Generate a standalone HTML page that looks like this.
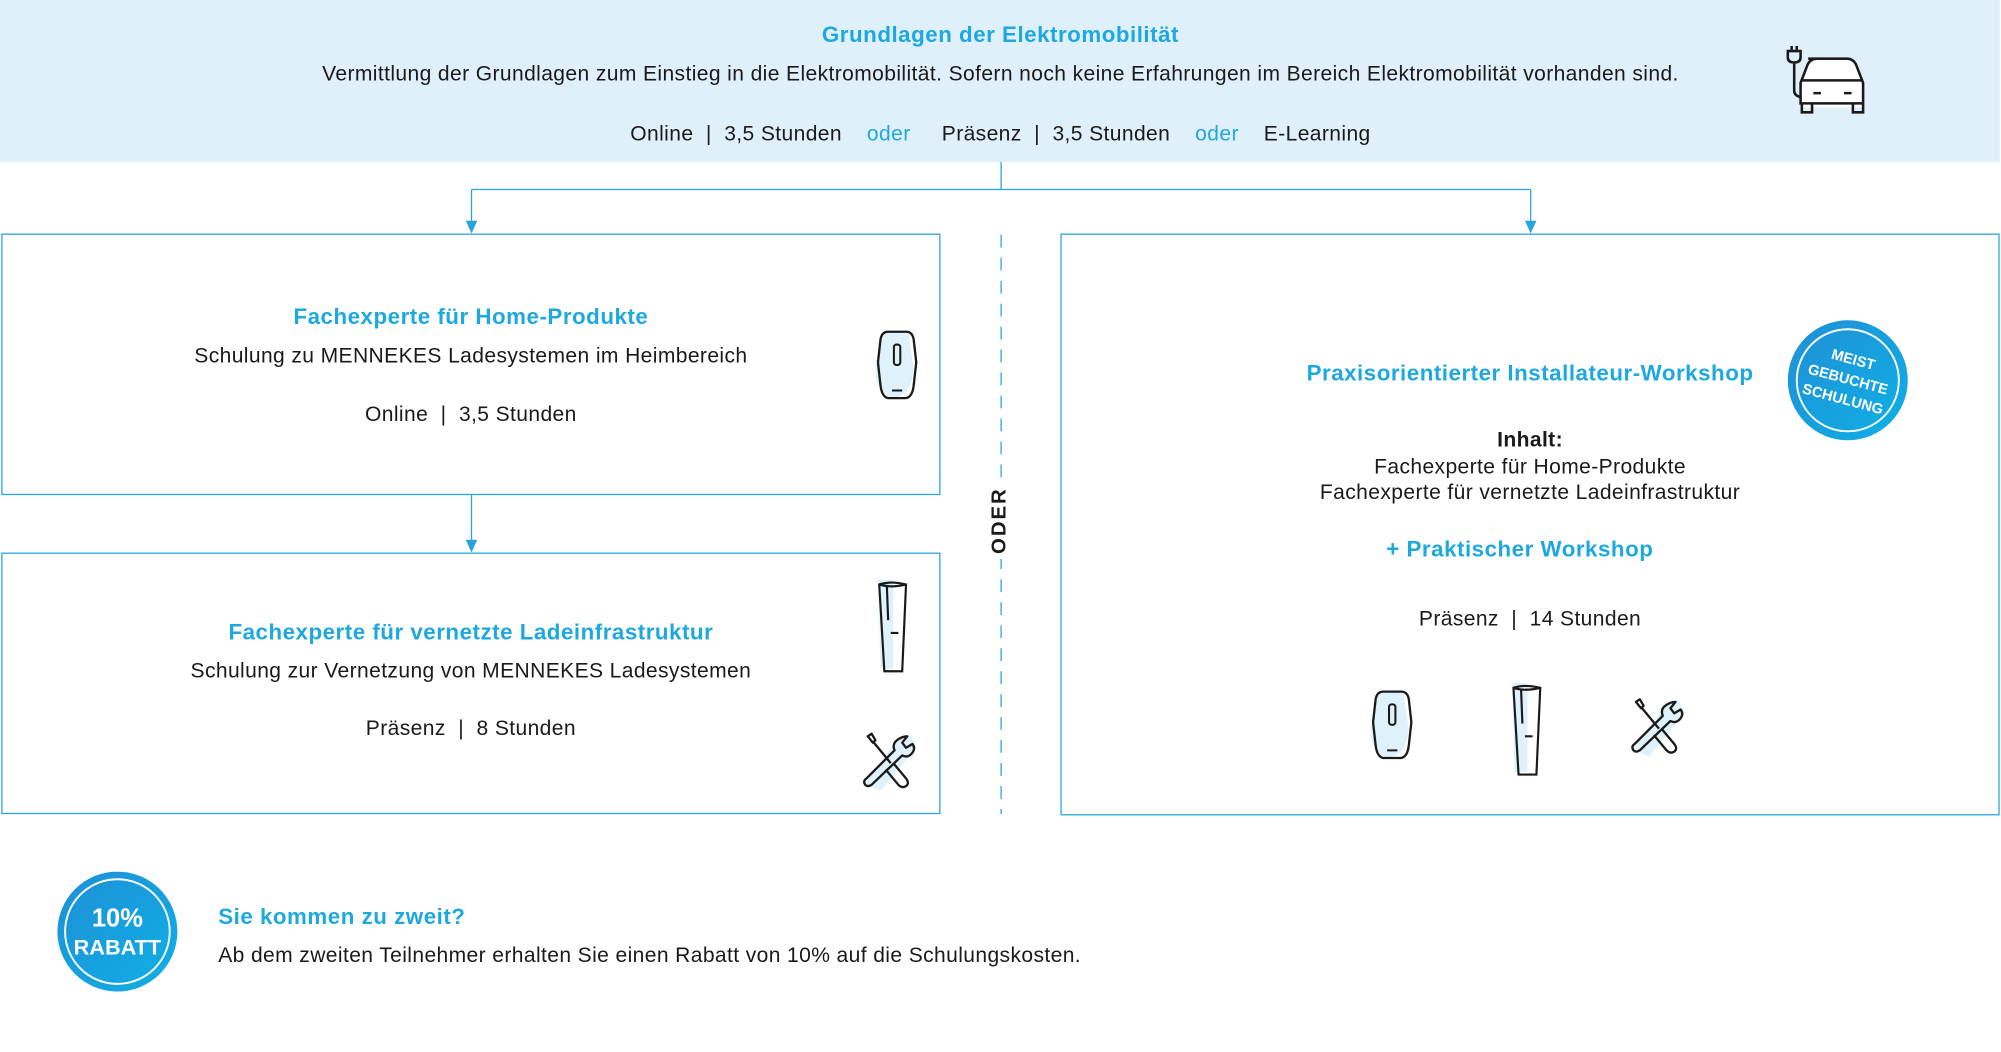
<!DOCTYPE html>
<html><head><meta charset="utf-8">
<style>
html,body{margin:0;padding:0;background:#fff;width:2001px;height:1051px;overflow:hidden}
#w{position:absolute;left:0;top:0;width:1568px;height:824px;transform:scale(1.2761);transform-origin:0 0;font-family:"Liberation Sans",Arial,sans-serif;color:#1a1a1a}
.a{position:absolute}
.c{position:absolute;text-align:center;white-space:nowrap}
.blue{color:#1ea8e0}
.t{font-size:17.5px;font-weight:bold;color:#1ea8e0;letter-spacing:0.4px}
.d{font-size:16.5px;letter-spacing:0.3px}
.box{position:absolute;border:1px solid #29a3dd;box-sizing:border-box}
</style></head><body><div id="w">

<div class="a" style="left:0;top:0;width:1567px;height:127px;background:#dff0fb"></div>
<div class="c t" style="left:0;width:1568px;top:17px">Grundlagen der Elektromobilität</div>
<div class="c d" style="left:0;width:1568px;top:49px">Vermittlung der Grundlagen zum Einstieg in die Elektromobilität. Sofern noch keine Erfahrungen im Bereich Elektromobilität vorhanden sind.</div>
<div class="c d" style="left:0;width:1568px;top:96px">Online &nbsp;|&nbsp; 3,5 Stunden &nbsp;&nbsp;&nbsp;<span class="blue">oder</span>&nbsp;&nbsp;&nbsp;&nbsp; Präsenz &nbsp;|&nbsp; 3,5 Stunden &nbsp;&nbsp;&nbsp;<span class="blue">oder</span>&nbsp;&nbsp;&nbsp; E-Learning</div>

<svg class="a" style="left:1395px;top:36px" width="75" height="56" viewBox="0 0 75 56" fill="none" stroke="#1a1a1a" stroke-width="2">
<path d="M18 10 h34 q6 0 9 8 l5 14 v16 h-50 v-16 l5 -14 q2 -8 7 -8z" fill="#fff" stroke="none"/>
<path d="M22 10 h30 q6 0 8 6 l5 13 v16 h-49 v-16 l5 -13 q2 -6 8 -6z"/>
<path d="M16 27 h49"/><path d="M26 37 h6 M50 37 h6"/>
<path d="M17 45 v7 h8 v-7 M57 45 v7 h8 v-7"/>
<path d="M9 4 v-4 M13 4 v-4 M6 4 h10 v5 q0 4 -5 4 q-5 0 -5 -4z M11 13 v22 q0 4 5 5"/>
</svg>

<svg class="a" style="left:0;top:0" width="1568" height="824">
<g stroke="#29a3dd" stroke-width="1" fill="none">
<path d="M784.5 127 V148.5 M369.5 148.5 H1199.5 M369.5 148.5 V176 M1199.5 148.5 V176 M369.5 387 V426"/>
<path d="M784.5 184 V638" stroke-dasharray="10 8"/>
</g>
<g fill="#29a3dd"><path d="M365 173 h9 l-4.5 10z"/><path d="M1195 173 h9 l-4.5 10z"/><path d="M365 423 h9 l-4.5 10z"/></g>
<rect x="774" y="378" width="21" height="60" fill="#fff"/>
</svg>
<div class="a" style="left:784px;top:408px;transform:translate(-50%,-50%) rotate(-90deg);font-size:16px;font-weight:bold;letter-spacing:1.5px">ODER</div>

<div class="box" style="left:1px;top:183px;width:736px;height:205px"></div>
<div class="c t" style="left:1px;width:736px;top:238px">Fachexperte für Home-Produkte</div>
<div class="c d" style="left:1px;width:736px;top:270px">Schulung zu MENNEKES Ladesystemen im Heimbereich</div>
<div class="c d" style="left:1px;width:736px;top:316px">Online &nbsp;|&nbsp; 3,5 Stunden</div>

<div class="box" style="left:1px;top:433px;width:736px;height:205px"></div>
<div class="c t" style="left:1px;width:736px;top:485px">Fachexperte für vernetzte Ladeinfrastruktur</div>
<div class="c d" style="left:1px;width:736px;top:517px">Schulung zur Vernetzung von MENNEKES Ladesystemen</div>
<div class="c d" style="left:1px;width:736px;top:562px">Präsenz &nbsp;|&nbsp; 8 Stunden</div>

<div class="box" style="left:831px;top:183px;width:736px;height:456px"></div>
<div class="c t" style="left:831px;width:736px;top:282px">Praxisorientierter Installateur-Workshop</div>
<div class="c d" style="left:831px;width:736px;top:336px;font-weight:bold">Inhalt:</div>
<div class="c d" style="left:831px;width:736px;top:357px">Fachexperte für Home-Produkte</div>
<div class="c d" style="left:831px;width:736px;top:377px">Fachexperte für vernetzte Ladeinfrastruktur</div>
<div class="c t" style="left:831px;width:720px;top:420px">+ Praktischer Workshop</div>
<div class="c d" style="left:831px;width:736px;top:476px">Präsenz &nbsp;|&nbsp; 14 Stunden</div>

<svg class="a" style="left:684px;top:256px" width="40" height="60" viewBox="0 0 40 60">
<path d="M6 6 q10 -6 22 0 l4 28 q-2 20 -16 22 q-14 -4 -14 -22z" fill="#dff2fb"/>
<path d="M12 4 h14 q5 0 6 6 l2 18 l-2 18 q-1 9 -6 10 h-14 q-5 -1 -6 -10 l-2 -18 l2 -18 q1 -6 6 -6z" fill="none" stroke="#1a1a1a" stroke-width="1.8"/>
<rect x="16.5" y="14" width="5" height="16" rx="2" fill="none" stroke="#1a1a1a" stroke-width="1.6"/><path d="M15 50 h8" stroke="#1a1a1a" stroke-width="1.6"/>
</svg>
<svg class="a" style="left:1072px;top:538px" width="40" height="60" viewBox="0 0 40 60">
<path d="M6 6 q10 -6 22 0 l4 28 q-2 20 -16 22 q-14 -4 -14 -22z" fill="#dff2fb"/>
<path d="M12 4 h14 q5 0 6 6 l2 18 l-2 18 q-1 9 -6 10 h-14 q-5 -1 -6 -10 l-2 -18 l2 -18 q1 -6 6 -6z" fill="none" stroke="#1a1a1a" stroke-width="1.8"/>
<rect x="16.5" y="14" width="5" height="16" rx="2" fill="none" stroke="#1a1a1a" stroke-width="1.6"/><path d="M15 50 h8" stroke="#1a1a1a" stroke-width="1.6"/>
</svg>
<svg class="a" style="left:686px;top:452px" width="30" height="78" viewBox="0 0 30 78">
<path d="M2 2 h12 l0 70 h-10z" fill="#dff2fb"/>
<path d="M3 6 q9 -3 21 0 l-3 68 h-14z M3 6 q9 3 21 0 M9 8 l1 26 M12 44 h6" fill="none" stroke="#1a1a1a" stroke-width="1.7"/>
</svg>
<svg class="a" style="left:1183px;top:533px" width="30" height="78" viewBox="0 0 30 78">
<path d="M2 2 h12 l0 70 h-10z" fill="#dff2fb"/>
<path d="M3 6 q9 -3 21 0 l-3 68 h-14z M3 6 q9 3 21 0 M9 8 l1 26 M12 44 h6" fill="none" stroke="#1a1a1a" stroke-width="1.7"/>
</svg>
<svg class="a" style="left:674px;top:572px" width="50" height="50" viewBox="0 0 50 50">
<path d="M30 6 l10 -2 l4 10 l-28 34 l-12 -6z" fill="#dff2fb"/>
<g fill="none" stroke="#1a1a1a" stroke-width="1.8" stroke-linejoin="round">
<path d="M6 5 l3 -2 l3 5 l-2 2z M10 9 l14 17"/>
<path d="M26 26 l10 12 q3 4 0 6 q-3 2 -6 -1 l-10 -12"/>
<path d="M37 5 l-4 5 l3 4 l5 -3 q3 4 -1 8 q-3 3 -7 1 l-24 23 q-3 2 -5 0 q-2 -3 1 -5 l22 -22 q-2 -5 2 -8 q4 -3 8 -3z"/>
</g></svg>
<svg class="a" style="left:1276px;top:545px" width="50" height="50" viewBox="0 0 50 50">
<path d="M30 6 l10 -2 l4 10 l-28 34 l-12 -6z" fill="#dff2fb"/>
<g fill="none" stroke="#1a1a1a" stroke-width="1.8" stroke-linejoin="round">
<path d="M6 5 l3 -2 l3 5 l-2 2z M10 9 l14 17"/>
<path d="M26 26 l10 12 q3 4 0 6 q-3 2 -6 -1 l-10 -12"/>
<path d="M37 5 l-4 5 l3 4 l5 -3 q3 4 -1 8 q-3 3 -7 1 l-24 23 q-3 2 -5 0 q-2 -3 1 -5 l22 -22 q-2 -5 2 -8 q4 -3 8 -3z"/>
</g></svg>

<svg class="a" style="left:1399px;top:250px" width="98" height="98" viewBox="0 0 98 98">
<defs><linearGradient id="g" x1="0" y1="0" x2="1" y2="1"><stop offset="0" stop-color="#1f8fd6"/><stop offset="1" stop-color="#0fb0e6"/></linearGradient></defs>
<circle cx="49" cy="48" r="47" fill="url(#g)"/><circle cx="49" cy="48" r="40" fill="none" stroke="#fff" stroke-width="1.5"/>
<g transform="rotate(15 49 48)" fill="#fff" font-family="Liberation Sans,Arial,sans-serif" font-weight="bold" font-size="11.5" text-anchor="middle">
<text x="49" y="35">MEIST</text><text x="49" y="51">GEBUCHTE</text><text x="49" y="67">SCHULUNG</text></g>
</svg>
<svg class="a" style="left:44px;top:683px" width="98" height="98" viewBox="0 0 98 98">
<defs><linearGradient id="g2" x1="0" y1="0" x2="1" y2="1"><stop offset="0" stop-color="#1f8fd6"/><stop offset="1" stop-color="#0fb0e6"/></linearGradient></defs>
<circle cx="48" cy="47" r="47" fill="url(#g2)"/><circle cx="48" cy="47" r="41" fill="none" stroke="#fff" stroke-width="1.5"/>
<g fill="#fff" font-family="Liberation Sans,Arial,sans-serif" font-weight="bold" text-anchor="middle">
<text x="48" y="43" font-size="20">10%</text><text x="48" y="65" font-size="17">RABATT</text></g>
</svg>
<div class="a t" style="left:171px;top:708px">Sie kommen zu zweit?</div>
<div class="a d" style="left:171px;top:740px">Ab dem zweiten Teilnehmer erhalten Sie einen Rabatt von 10% auf die Schulungskosten.</div>

</div></body></html>
